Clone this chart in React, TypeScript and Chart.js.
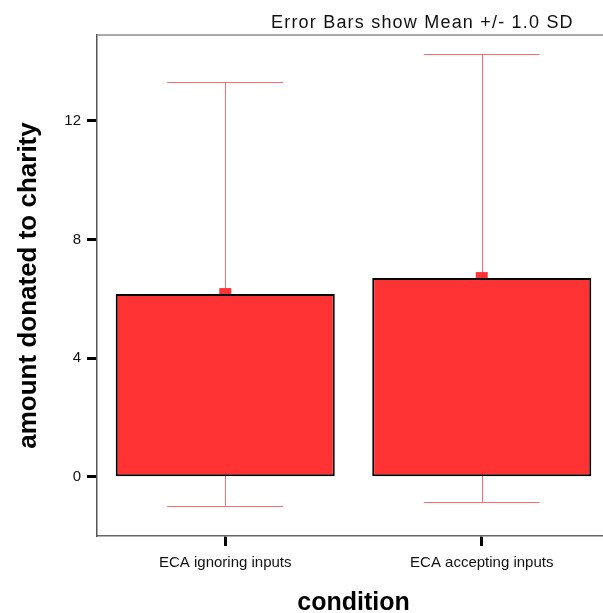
import React, { useEffect, useRef } from "react";
import { Chart, registerables } from "chart.js";

Chart.register(...registerables);

const categories = ["ECA ignoring inputs", "ECA accepting inputs"];
const means = [6.16, 6.7];
const sds = [7.14, 7.55];
const yTicks = [0, 4, 8, 12];
const yMin = -2;
const yMax = 14.9;

const FONT = "'Liberation Sans', Arial, sans-serif";
const BAR_FILL = "#ff3333";
const WHISKER = "#ff6a6a";

const errorBarPlugin = {
  id: "errorBars",
  beforeDatasetsDraw(chart: any) {
    const { ctx } = chart;
    const meta = chart.getDatasetMeta(0);
    const y = chart.scales.y;
    ctx.save();
    meta.data.forEach((bar: any, i: number) => {
      const x = bar.x;
      const top = y.getPixelForValue(means[i] + sds[i]);
      const bottom = y.getPixelForValue(means[i] - sds[i]);
      const mid = y.getPixelForValue(means[i]);
      const half = 58;
      ctx.strokeStyle = WHISKER;
      ctx.lineWidth = 1;
      ctx.beginPath();
      ctx.moveTo(Math.round(x) + 0.5, top);
      ctx.lineTo(Math.round(x) + 0.5, bottom);
      ctx.moveTo(x - half, Math.round(top) + 0.5);
      ctx.lineTo(x + half, Math.round(top) + 0.5);
      ctx.moveTo(x - half, Math.round(bottom) + 0.5);
      ctx.lineTo(x + half, Math.round(bottom) + 0.5);
      ctx.stroke();
      // mean marker
      ctx.fillStyle = BAR_FILL;
      ctx.fillRect(x - 6, mid - 6, 12, 12);
    });
    ctx.restore();
  },
  afterDraw(chart: any) {
    const { ctx, chartArea } = chart;
    ctx.save();
    ctx.strokeStyle = "#8c8c8c";
    ctx.lineWidth = 1.5;
    ctx.beginPath();
    ctx.moveTo(chartArea.left, chartArea.top);
    ctx.lineTo(chart.width, chartArea.top);
    ctx.stroke();
    ctx.fillStyle = "#111";
    ctx.font = `18px ${FONT}`;
    ctx.textBaseline = "alphabetic";
    ctx.textAlign = "left";
    (ctx as any).letterSpacing = "1.2px";
    ctx.fillText("Error Bars show Mean +/- 1.0 SD", 271, 28);
    ctx.restore();
  },
};

export default function App() {
  const ref = useRef<HTMLCanvasElement>(null);

  useEffect(() => {
    if (!ref.current) return;
    const chart = new Chart(ref.current, {
      type: "bar",
      data: {
        labels: categories,
        datasets: [
          {
            data: means,
            backgroundColor: BAR_FILL,
            borderColor: "#000",
            borderWidth: 2,
            borderSkipped: false,
            barPercentage: 0.854,
            categoryPercentage: 1,
          },
        ],
      },
      options: {
        responsive: false,
        animation: false,
        devicePixelRatio: 1,
        layout: { padding: { top: 35, left: 0, right: 0, bottom: 0 } },
        plugins: {
          legend: { display: false },
          tooltip: { enabled: false },
        },
        scales: {
          x: {
            offset: true,
            grid: {
              offset: false,
              drawOnChartArea: false,
              drawTicks: true,
              tickLength: 10,
              tickWidth: 3,
              tickColor: "#000",
            },
            border: { display: true, color: "#666", width: 1.5 },
            ticks: {
              color: "#111",
              font: { family: FONT, size: 15 },
              padding: 8,
              maxRotation: 0,
            },
            title: {
              display: true,
              text: "condition",
              color: "#000",
              font: { family: FONT, size: 25, weight: "bold", lineHeight: 0.8 },
              padding: { top: 0, bottom: 0 },
            },
            afterFit(scale: any) {
              scale.height = 77;
            },
          },
          y: {
            min: yMin,
            max: yMax,
            grid: {
              drawOnChartArea: false,
              drawTicks: true,
              tickLength: 10,
              tickWidth: 3,
              tickColor: "#000",
            },
            border: { display: true, color: "#555", width: 1.5 },
            ticks: {
              color: "#111",
              font: { family: FONT, size: 15 },
              padding: 6,
            },
            afterBuildTicks(scale: any) {
              scale.ticks = yTicks.map((v) => ({ value: v }));
            },
            title: {
              display: true,
              text: "amount donated to charity",
              color: "#000",
              font: { family: FONT, size: 26, weight: "bold", lineHeight: 1 },
              padding: { top: 16, bottom: 0 },
            },
            afterFit(scale: any) {
              scale.width = 97;
            },
          },
        },
      },
      plugins: [errorBarPlugin],
    });
    return () => chart.destroy();
  }, []);

  return (
    <div
      style={{
        position: "absolute",
        left: 0,
        top: 0,
        width: 603,
        height: 613,
        overflow: "hidden",
        background: "#fff",
      }}
    >
      <canvas ref={ref} width={610} height={613} style={{ display: "block" }} />
    </div>
  );
}
